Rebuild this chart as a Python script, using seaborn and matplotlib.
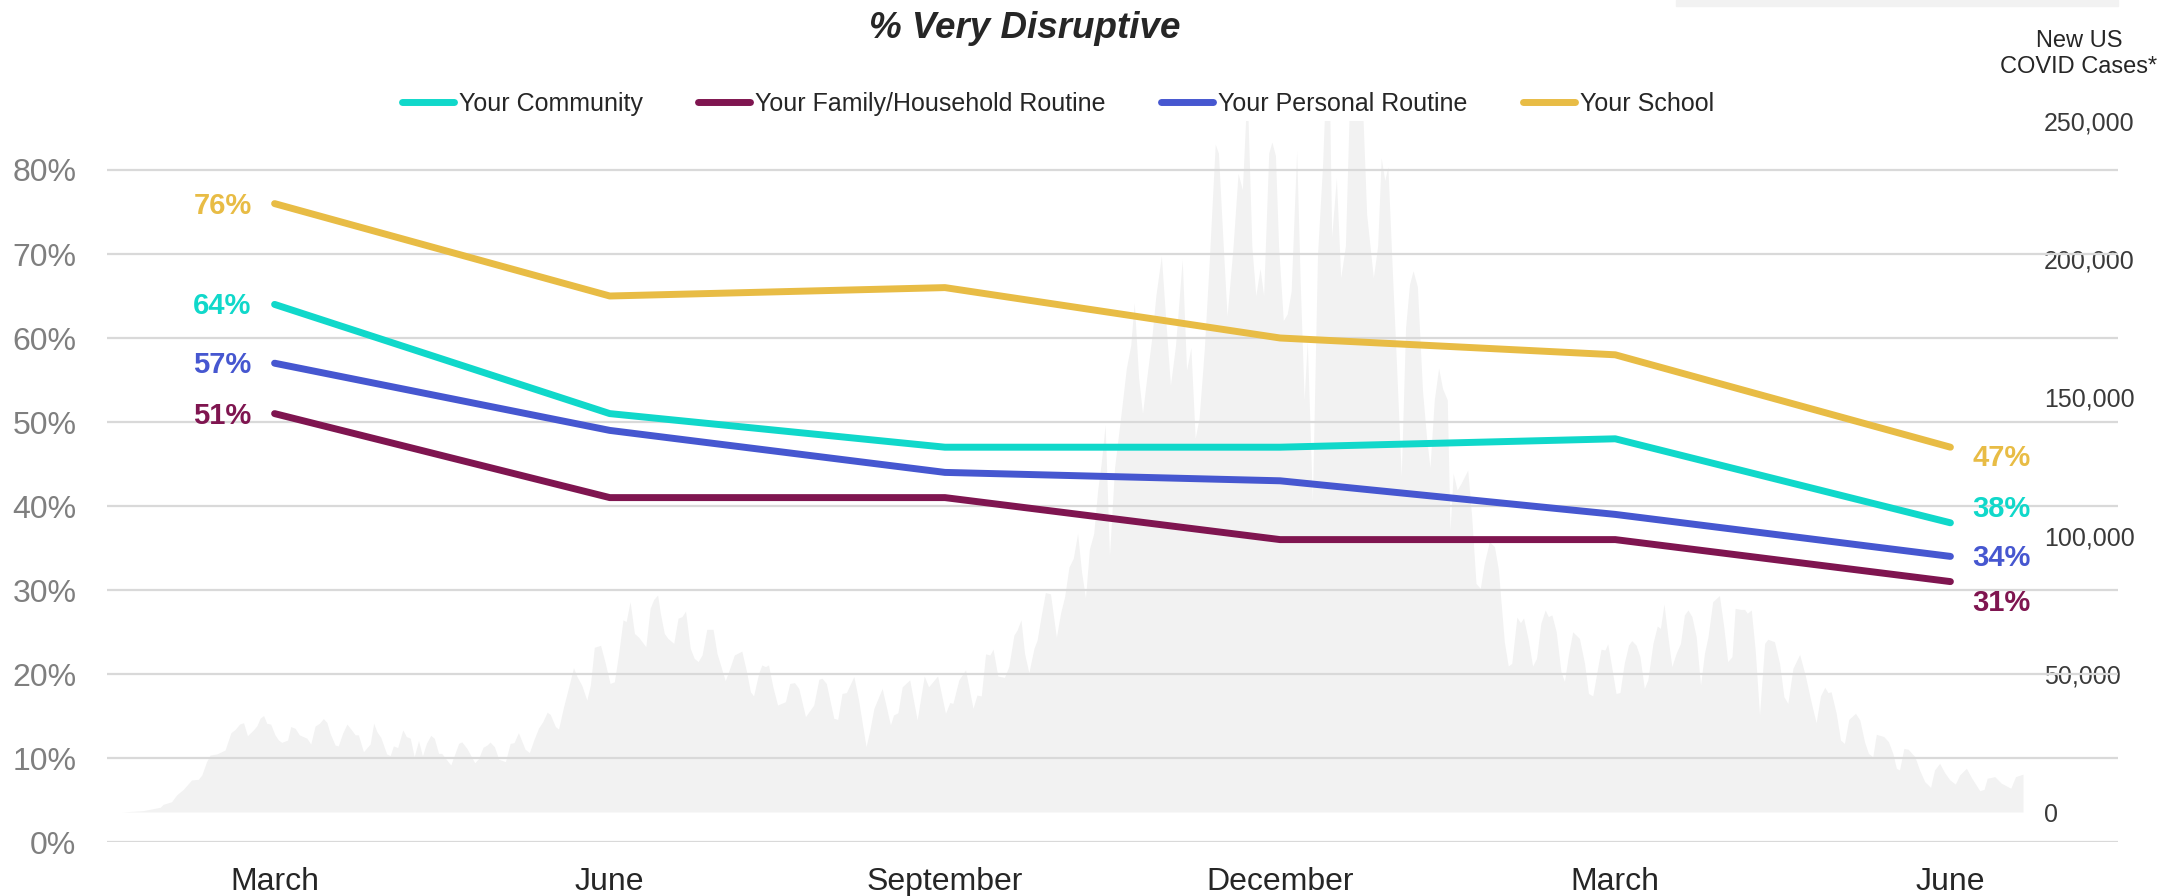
import matplotlib
matplotlib.use('Agg')
import matplotlib.pyplot as plt
from matplotlib.lines import Line2D
from matplotlib.patches import Rectangle
from matplotlib.ticker import FuncFormatter
import numpy as np
import pandas as pd
import seaborn as sns

# survey waves and % "very disruptive"
waves = ['March', 'June', 'September', 'December', 'March', 'June']
community = [64, 51, 47, 47, 48, 38]
family = [51, 41, 41, 36, 36, 31]
personal = [57, 49, 44, 43, 39, 34]
school = [76, 65, 66, 60, 58, 47]
series_names = ['Your Community', 'Your Family/Household Routine',
                'Your Personal Routine', 'Your School']

# new US covid cases (day index, thousands)
covid_cases = [
    (0.0, 0), (5.4, 0.5), (9.7, 1.7), (10.5, 2.8), (12.6, 3.7), (13.9, 6.2), (15.6, 8.2),
    (17.7, 11.6), (19.4, 11.8), (20.3, 13.4), (21.5, 18.2), (22.4, 20.6), (24.1, 21.0),
    (26.2, 22.4), (27.7, 28.7), (28.8, 29.9), (29.9, 31.8), (30.9, 32.3), (31.9, 27.6),
    (33.4, 29.7), (34.3, 31.2), (35.1, 33.9), (36.0, 34.9), (36.8, 32.1), (37.8, 31.8),
    (38.9, 27.9), (39.8, 26.0), (40.6, 25.2), (42.1, 26.0), (42.9, 30.9), (44.0, 30.3),
    (45.1, 27.9), (47.0, 26.7), (48.0, 24.6), (49.1, 31.1), (50.2, 32.1), (51.2, 33.8),
    (52.1, 32.4), (52.9, 28.5), (54.2, 24.2), (55.0, 23.9), (56.1, 28.5), (57.2, 31.8),
    (58.2, 30.0), (59.3, 27.9), (60.1, 27.9), (61.4, 21.8), (63.1, 24.6), (64.0, 32.1),
    (64.8, 29.1), (65.8, 27.0), (67.3, 21.0), (68.2, 20.4), (69.0, 23.9), (70.1, 23.3),
    (71.4, 29.7), (72.3, 27.3), (73.3, 26.7), (74.3, 20.0), (75.4, 25.8), (76.4, 20.3),
    (77.4, 24.8), (78.5, 27.7), (79.4, 26.7), (80.5, 21.2), (81.3, 21.2), (82.6, 18.8),
    (83.6, 17.0), (85.6, 24.8), (86.4, 25.4), (87.7, 23.0), (89.7, 17.8), (90.7, 19.4),
    (91.8, 23.4), (92.8, 24.2), (93.6, 25.3), (94.7, 23.6), (95.8, 19.1), (97.5, 18.2),
    (98.7, 24.8), (99.7, 25.1), (100.8, 28.7), (102.5, 22.7), (103.6, 21.5), (104.7, 26.0),
    (105.9, 30.3), (107.0, 32.7), (108.1, 36.1), (108.9, 35.3), (110.2, 30.9), (111.0, 30.0),
    (112.3, 38.1), (113.6, 45.3), (114.8, 52.2), (115.7, 49.0), (116.9, 45.9), (118.2, 40.5),
    (119.1, 45.9), (120.1, 59.6), (121.7, 60.3), (122.9, 53.8), (124.1, 46.5), (125.2, 47.1),
    (126.3, 57.4), (127.4, 69.5), (128.2, 68.9), (129.2, 76.1), (130.3, 64.6), (131.4, 63.2),
    (133.2, 59.8), (134.3, 73.7), (135.2, 76.9), (136.2, 78.5), (136.9, 71.9), (137.9, 64.6),
    (138.8, 62.8), (140.3, 61.0), (141.4, 70.1), (142.4, 70.7), (143.3, 72.7), (144.5, 59.2),
    (145.5, 55.6), (146.5, 54.4), (147.5, 56.8), (148.7, 66.1), (150.3, 66.1), (151.3, 57.4),
    (153.4, 47.5), (154.7, 52.6), (155.7, 56.8), (157.6, 58.2), (158.8, 50.8), (159.8, 43.5),
    (160.6, 42.0), (161.9, 50.2), (162.7, 53.2), (163.6, 52.6), (164.4, 53.2), (165.5, 45.3),
    (166.7, 38.7), (168.7, 39.9), (169.8, 46.5), (171.0, 46.8), (172.1, 44.7), (173.8, 34.5),
    (175.9, 38.7), (177.2, 48.0), (178.0, 48.4), (179.1, 46.5), (181.0, 33.9), (182.0, 33.5),
    (183.1, 42.9), (184.2, 43.2), (186.1, 49.0), (187.3, 40.5), (189.2, 23.6), (190.1, 29.1),
    (191.2, 37.5), (193.3, 44.7), (195.4, 31.5), (196.2, 35.1), (197.3, 35.9), (198.4, 45.3),
    (200.3, 47.8), (202.2, 33.3), (204.0, 49.2), (205.1, 45.3), (207.4, 49.2), (209.4, 35.7),
    (210.5, 39.6), (211.3, 39.3), (212.8, 47.8), (214.5, 51.4), (216.4, 37.5), (217.4, 42.3),
    (218.5, 42.0), (219.6, 57.2), (220.7, 56.8), (221.5, 58.9), (222.7, 49.2), (224.4, 48.7),
    (225.5, 52.6), (226.8, 64.0), (227.6, 65.8), (228.6, 69.5), (229.5, 57.4), (230.6, 50.4),
    (231.9, 59.2), (232.7, 62.2), (233.7, 70.7), (234.8, 79.4), (236.1, 78.9), (237.6, 63.2),
    (238.7, 72.2), (239.7, 77.9), (240.8, 88.6), (241.9, 91.8), (243.0, 100.8), (244.0, 86.9),
    (245.0, 77.4), (246.0, 95.1), (247.1, 100.8), (248.1, 116.4), (249.0, 126.2), (250.0, 140.1),
    (251.1, 92.7), (252.4, 124.6), (254.2, 145.9), (255.4, 160.6), (256.5, 168.8), (257.4, 184.3),
    (258.5, 157.3), (259.5, 144.2), (260.6, 157.3), (261.9, 172.0), (262.9, 186.8), (264.3, 201.2),
    (265.3, 180.2), (266.6, 154.4), (267.9, 168.8), (269.6, 199.9), (270.7, 159.8), (271.8, 168.0),
    (272.9, 135.2), (273.9, 142.6), (275.2, 167.1), (276.5, 199.9), (278.0, 241.6), (278.8, 238.4),
    (280.0, 205.6), (281.0, 179.4), (282.5, 204.0), (283.8, 231.0), (284.9, 225.2), (286.1, 262.0),
    (287.3, 204.8), (288.3, 186.8), (289.4, 196.6), (290.3, 186.8), (291.6, 238.4), (292.4, 242.4),
    (293.3, 237.5), (294.1, 204.8), (295.3, 177.8), (296.3, 180.2), (297.3, 188.4), (298.7, 239.2),
    (299.6, 191.7), (300.6, 149.1), (301.4, 170.4), (302.7, 112.3), (304.0, 201.5), (305.3, 234.3),
    (306.2, 268.0), (307.0, 265.0), (307.6, 208.1), (308.8, 229.3), (309.9, 193.3), (311.1, 204.8),
    (312.2, 260.0), (313.5, 275.0), (315.2, 265.0), (316.5, 216.2), (318.2, 193.3), (319.3, 204.8),
    (320.2, 236.7), (321.1, 228.5), (321.9, 233.4), (323.1, 193.3), (324.0, 164.7), (325.3, 121.3),
    (326.4, 175.3), (327.4, 190.9), (328.3, 195.8), (329.4, 190.1), (330.7, 152.4), (331.7, 136.0),
    (332.6, 124.6), (333.7, 149.1), (334.8, 160.6), (335.8, 153.2), (337.0, 149.1), (337.7, 101.7),
    (338.5, 122.5), (339.5, 116.5), (340.5, 118.9), (342.2, 123.7), (343.2, 106.9), (344.3, 82.7),
    (345.4, 80.9), (346.4, 90.0), (347.7, 97.8), (349.0, 96.0), (350.0, 87.6), (351.5, 61.6),
    (352.5, 52.8), (353.4, 53.8), (354.7, 70.5), (355.6, 68.5), (356.4, 70.2), (357.6, 62.2),
    (358.7, 52.8), (359.7, 55.6), (360.8, 68.3), (361.9, 73.1), (362.7, 70.7), (363.6, 71.3),
    (364.7, 65.2), (365.9, 50.8), (366.8, 47.2), (367.8, 56.8), (368.9, 65.2), (370.6, 62.8),
    (371.9, 53.8), (372.9, 42.9), (374.0, 42.0), (375.3, 52.6), (376.1, 58.9), (377.1, 58.6),
    (377.8, 60.8), (378.8, 52.6), (379.9, 42.9), (380.9, 43.2), (382.0, 53.8), (383.1, 60.4),
    (383.9, 62.0), (385.0, 60.4), (386.0, 56.2), (387.1, 44.7), (388.0, 47.8), (389.3, 61.0),
    (390.4, 67.3), (391.2, 66.4), (392.1, 75.3), (393.1, 63.4), (394.1, 52.6), (395.2, 57.4),
    (396.3, 61.0), (397.3, 71.3), (398.2, 73.1), (399.2, 70.7), (400.3, 63.4), (401.4, 45.9),
    (402.4, 57.4), (403.3, 63.4), (404.5, 76.1), (406.2, 78.3), (407.3, 67.1), (408.3, 54.4),
    (409.4, 56.2), (410.2, 73.7), (411.6, 73.3), (412.6, 73.3), (413.3, 71.9), (414.3, 73.1),
    (415.3, 58.6), (416.4, 35.1), (417.7, 61.0), (418.5, 62.5), (420.2, 61.6), (421.5, 53.8),
    (422.6, 41.7), (423.6, 39.3), (424.9, 52.0), (426.6, 57.0), (428.0, 49.6), (429.6, 39.3),
    (430.8, 32.3), (431.9, 42.0), (433.0, 45.1), (433.8, 43.2), (434.6, 43.5), (435.9, 35.7),
    (437.0, 26.0), (438.0, 24.8), (439.1, 33.5), (440.8, 35.7), (441.9, 33.3), (443.1, 25.4),
    (444.1, 21.2), (445.2, 20.0), (446.1, 28.1), (448.0, 27.3), (449.2, 25.4), (450.3, 21.2),
    (451.2, 15.8), (452.0, 15.2), (453.1, 23.0), (454.2, 22.7), (455.9, 20.0), (457.1, 15.2),
    (458.4, 11.0), (459.9, 8.9), (460.9, 15.2), (462.2, 17.6), (463.5, 14.2), (464.8, 11.6),
    (466.2, 10.1), (467.3, 13.4), (469.0, 15.8), (470.4, 12.2), (472.4, 7.7), (473.5, 8.2),
    (474.3, 12.2), (476.2, 12.8), (477.9, 10.4), (480.3, 8.6), (481.5, 12.8), (483.4, 13.7),
]
case_ticks = [0, 50, 100, 150, 200, 250]

colors = ['#10D8CA', '#7F1550', '#4657D0', '#E8BC45']
W, H = 2182, 896

sns.set_theme(style='white')
plt.rcParams['font.family'] = ['Liberation Sans', 'DejaVu Sans']

df = pd.DataFrame({
    'wave': np.tile(np.arange(len(waves)), 4),
    'value': community + family + personal + school,
    'series': np.repeat(series_names, len(waves)),
})

fig = plt.figure(figsize=(W / 100, H / 100), dpi=100)

# background covid area, own axes
case_day, case_k = zip(*covid_cases)
ax_c = fig.add_axes([122 / W, 84 / H, 1901 / W, 691 / H])
ax_c.fill_between(case_day, case_k, color='#F2F2F2', lw=0)
ax_c.set_xlim(0, max(case_day))
ax_c.set_ylim(0, 250)
ax_c.set_yticks(case_ticks)
ax_c.yaxis.set_major_formatter(FuncFormatter(lambda v, p: f'{int(v * 1000):,}'))
ax_c.yaxis.tick_right()
ax_c.tick_params(axis='y', length=0, pad=15, labelsize=18, labelcolor='#3A3A3A')
ax_c.set_xticks([])
for s in ax_c.spines.values():
    s.set_visible(False)
ax_c.patch.set_visible(False)

# main lines
ax = fig.add_axes([107 / W, 54 / H, 2011 / W, 676.2 / H])
ax.patch.set_visible(False)
sns.lineplot(data=df, x='wave', y='value', hue='series', hue_order=series_names,
             palette=colors, linewidth=5, legend=False, sort=False, ax=ax)
for ln in ax.lines:
    ln.set_solid_capstyle('round')
    ln.set_solid_joinstyle('round')

ax.set_xlim(-0.5, 5.5)
ax.set_ylim(0, 80.5)
ax.set_yticks(range(0, 81, 10))
ax.set_yticklabels([f'{v}%' for v in range(0, 81, 10)])
ax.set_xticks(range(len(waves)))
ax.set_xticklabels(waves)
ax.set_xlabel('')
ax.set_ylabel('')
ax.grid(axis='y', color='#D9D9D9', lw=1.6)
ax.grid(axis='x', visible=False)
ax.tick_params(axis='x', length=0, pad=18, labelsize=23, labelcolor='#262626')
ax.tick_params(axis='y', length=0, pad=22, labelsize=23, labelcolor='#7F7F7F')
sns.despine(ax=ax, left=True, bottom=True)

# value labels at both ends
end_dy = [11.5, -14, 0, -6]
for vals, c, dy in zip([community, family, personal, school], colors, end_dy):
    ax.annotate(f'{vals[0]}%', xy=(0, vals[0]), xytext=(-16.5, -1.5), textcoords='offset points',
                ha='right', va='center', fontsize=21, fontweight='bold', color=c)
    ax.annotate(f'{vals[-1]}%', xy=(len(vals) - 1, vals[-1]), xytext=(16, dy - 1.5),
                textcoords='offset points', ha='left', va='center', fontsize=21,
                fontweight='bold', color=c)

handles = [Line2D([0], [0], color=c, lw=5, solid_capstyle='round') for c in colors]
fig.legend(handles, series_names, loc='center', bbox_to_anchor=(1058 / W, 1 - 104 / H),
           ncol=4, frameon=False, fontsize=18, handlelength=2.1, handletextpad=0.2,
           columnspacing=2.2, labelcolor='#262626')

fig.text(1025 / W, 1 - 29 / H, '% Very Disruptive', ha='center', va='center',
         fontsize=26.5, fontweight='bold', style='italic', color='#262626')
fig.text(2079 / W, 1 - 54 / H, 'New US\nCOVID Cases*', ha='center', va='center',
         fontsize=17, color='#262626')
fig.patches.append(Rectangle((1676 / W, 1 - 6 / H), 442 / W, 6 / H,
                             transform=fig.transFigure, color='#F2F2F2', zorder=0))

fig.savefig('out.png', dpi=100)
